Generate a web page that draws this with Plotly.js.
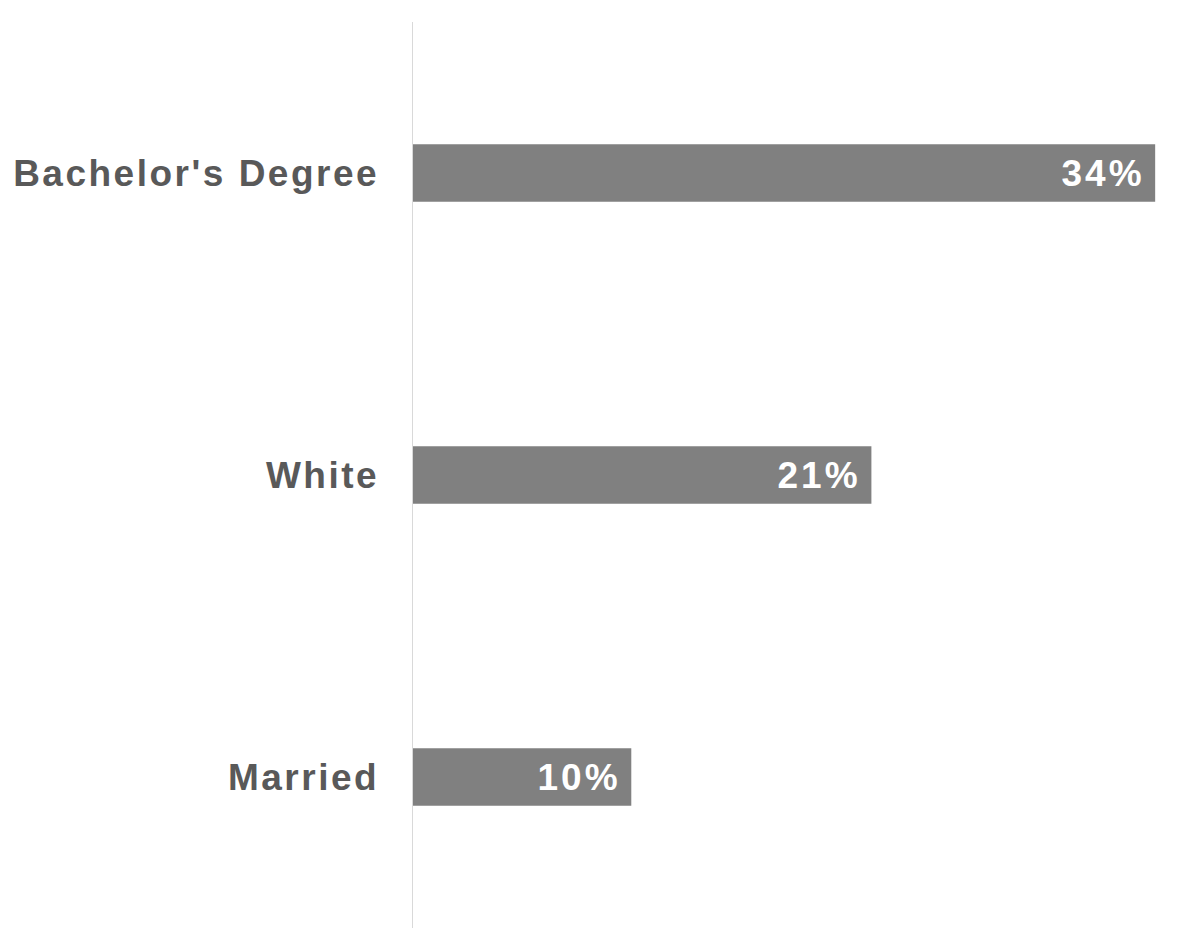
<!DOCTYPE html>
<html>
<head>
<meta charset="utf-8">
<script src="https://cdn.plot.ly/plotly-3.0.1.min.js"></script>
<style>
html,body{margin:0;padding:0;background:#fff;}
#chart{width:1200px;height:951px;}
#chart .ytick text{letter-spacing:2.5px;}
#chart .annotation-text{letter-spacing:3px;}
</style>
</head>
<body>
<div id="chart"></div>
<script>
const categories = ["Bachelor's Degree", "White", "Married"];
const values = [34, 21, 10];
const valueLabels = ["34%", "21%", "10%"];

const trace = {
  type: 'bar',
  orientation: 'h',
  y: categories,
  x: values,
  marker: {color: '#808080'},
  hoverinfo: 'none'
};

const annotations = categories.map((c, i) => ({
  x: values[i], y: c, xref: 'x', yref: 'y',
  text: valueLabels[i], showarrow: false,
  xanchor: 'right', yanchor: 'middle', xshift: -13,
  font: {family: 'Liberation Sans, Arial, sans-serif', size: 37, color: '#ffffff', weight: 'bold'}
}));

const layout = {
  width: 1200, height: 951,
  margin: {l: 413, r: 23, t: 22, b: 23},
  paper_bgcolor: '#ffffff', plot_bgcolor: '#ffffff',
  bargap: 0.81,
  showlegend: false,
  xaxis: {range: [0, 35], visible: false, fixedrange: true},
  yaxis: {
    autorange: 'reversed',
    showline: true, linecolor: '#d9d9d9', linewidth: 1.5,
    showgrid: false, zeroline: false,
    ticks: 'outside', ticklen: 25, tickcolor: 'rgba(0,0,0,0)',
    tickfont: {family: 'Liberation Sans, Arial, sans-serif', size: 37, color: '#595959', weight: 'bold'}
  },
  annotations: annotations
};

Plotly.newPlot('chart', [trace], layout, {displayModeBar: false, staticPlot: true});
</script>
</body>
</html>
